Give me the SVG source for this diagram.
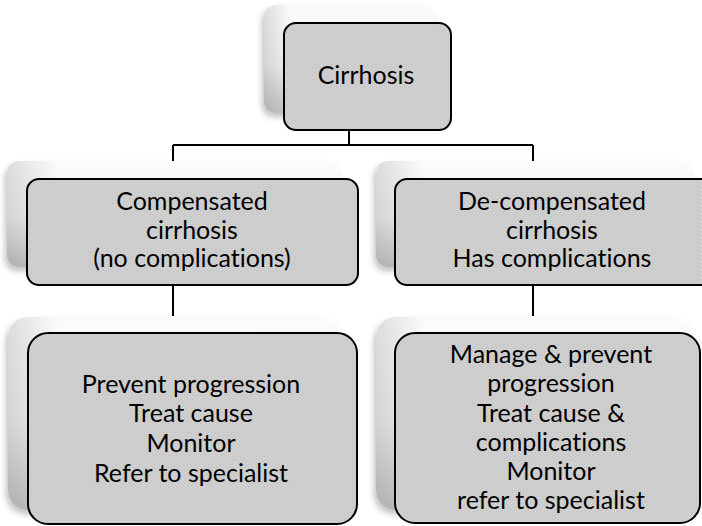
<svg xmlns="http://www.w3.org/2000/svg" width="702" height="526" viewBox="0 0 702 526">
<defs>
<pattern id="dots" width="4" height="4" patternUnits="userSpaceOnUse">
<rect width="4" height="4" fill="#cbcbcb"/>
<rect x="1" y="1" width="1" height="1" fill="#e2e2e2"/>
<rect x="3" y="3" width="1" height="1" fill="#d8d8d8"/>
</pattern>
<linearGradient id="back" x1="0" y1="0" x2="0" y2="1">
<stop offset="0" stop-color="#fbfbfb"/>
<stop offset="0.55" stop-color="#f0f0f0"/>
<stop offset="1" stop-color="#c6c6c6"/>
</linearGradient>
<linearGradient id="side" x1="0" y1="0" x2="1" y2="0">
<stop offset="0" stop-color="#000" stop-opacity="0.12"/>
<stop offset="0.15" stop-color="#000" stop-opacity="0"/>
</linearGradient>
<filter id="sh" x="-10%" y="-10%" width="120%" height="125%">
<feGaussianBlur in="SourceAlpha" stdDeviation="3"/>
<feOffset dx="-2" dy="4"/>
<feComponentTransfer><feFuncA type="linear" slope="0.25"/></feComponentTransfer>
<feMerge><feMergeNode/><feMergeNode in="SourceGraphic"/></feMerge>
</filter>
</defs>
<style>
.bk{fill:url(#back);filter:url(#sh)}
.bs{fill:url(#side)}
.fr{fill:url(#dots);stroke:#000;stroke-width:2}
.t{font-family:Lato,"Open Sans","Liberation Sans",sans-serif;font-size:25px;fill:#000;text-anchor:middle;font-variant-ligatures:none}
.c{fill:none;stroke:#000;stroke-width:2}
</style>
<g id="connectors">
<path class="c" d="M349,130 V145 M173,145 H533 M173,145 V162 M533,145 V162 M173,286 V316 M533,286 V316"/>
</g>
<g id="cirrhosis">
<rect class="bk" x="264" y="5" width="171" height="108" rx="12"/>
<rect class="bs" x="264" y="5" width="171" height="108" rx="12"/>
<rect class="fr" x="284" y="23" width="167" height="107" rx="12"/>
<text class="t" x="366" y="84">Cirrhosis</text>
</g>
<g id="compensated">
<rect class="bk" x="7" y="161" width="333" height="106" rx="12"/>
<rect class="bs" x="7" y="161" width="333" height="106" rx="12"/>
<rect class="fr" x="27" y="179" width="331" height="106" rx="12"/>
<text class="t" x="192" y="210">Compensated</text>
<text class="t" x="192" y="239">cirrhosis</text>
<text class="t" x="192" y="267">(no complications)</text>
</g>
<g id="decompensated">
<rect class="bk" x="376" y="161" width="316" height="106" rx="12"/>
<rect class="bs" x="376" y="161" width="316" height="106" rx="12"/>
<rect class="fr" x="395" y="179" width="320" height="106" rx="12"/>
<text class="t" x="552" y="210">De-compensated</text>
<text class="t" x="552" y="239">cirrhosis</text>
<text class="t" x="552" y="267">Has complications</text>
</g>
<g id="compensated-care">
<rect class="bk" x="8" y="317" width="332" height="193" rx="20"/>
<rect class="bs" x="8" y="317" width="332" height="193" rx="20"/>
<rect class="fr" x="28" y="333" width="329" height="191" rx="20"/>
<text class="t" x="191" y="393">Prevent progression</text>
<text class="t" x="191" y="422">Treat cause</text>
<text class="t" x="191" y="452">Monitor</text>
<text class="t" x="191" y="482">Refer to specialist</text>
</g>
<g id="decompensated-care">
<rect class="bk" x="376" y="317" width="316" height="193" rx="20"/>
<rect class="bs" x="376" y="317" width="316" height="193" rx="20"/>
<rect class="fr" x="395" y="333" width="305" height="190" rx="20"/>
<text class="t" x="551" y="363">Manage &amp; prevent</text>
<text class="t" x="551" y="392">progression</text>
<text class="t" x="551" y="422">Treat cause &amp;</text>
<text class="t" x="551" y="451">complications</text>
<text class="t" x="551" y="480">Monitor</text>
<text class="t" x="551" y="509">refer to specialist</text>
</g>
</svg>
